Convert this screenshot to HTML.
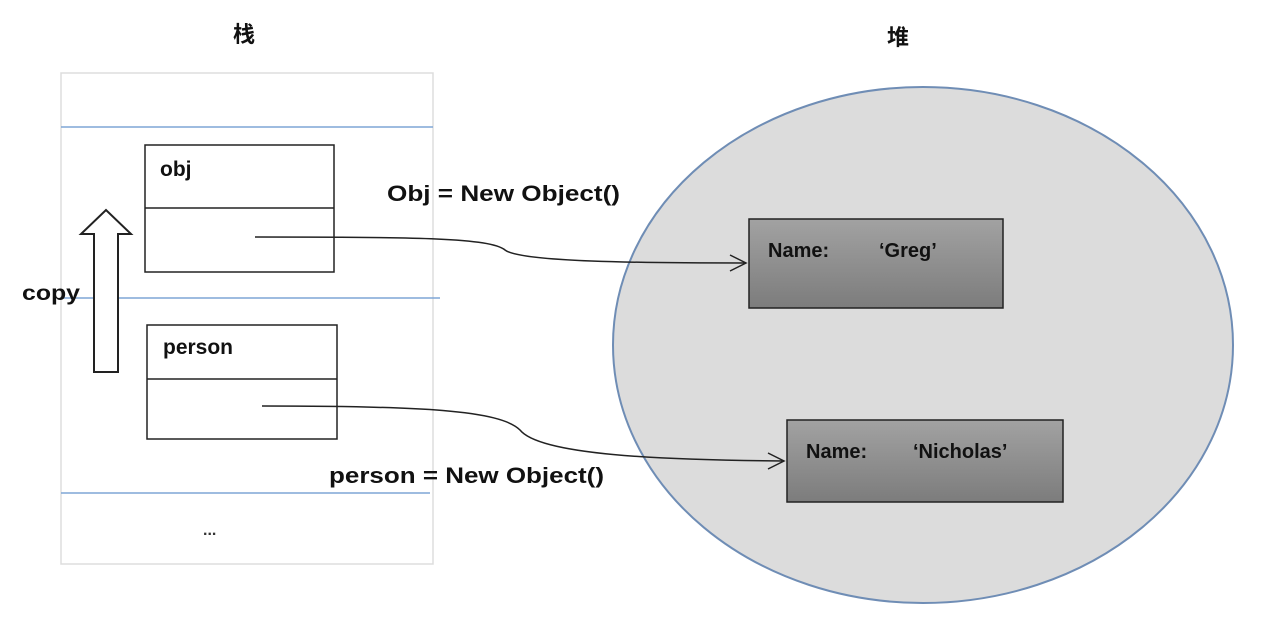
<!DOCTYPE html>
<html><head><meta charset="utf-8"><style>html,body{margin:0;padding:0;background:#fff}svg{display:block}</style></head>
<body>
<svg width="1268" height="644" viewBox="0 0 1268 644" xmlns="http://www.w3.org/2000/svg" font-family="Liberation Sans, Noto Sans CJK SC, sans-serif" font-weight="bold">
<defs>
<linearGradient id="g" x1="0" y1="0" x2="0" y2="1"><stop offset="0" stop-color="#a2a2a2"/><stop offset="1" stop-color="#7c7c7c"/></linearGradient>
</defs>
<rect width="1268" height="644" fill="#fff"/>
<text x="233" y="42" font-size="22" fill="#111">栈</text>
<text x="887" y="45" font-size="22" fill="#111">堆</text>
<rect x="61" y="73" width="372" height="491" fill="#fff" stroke="#dddddd" stroke-width="1.5"/>
<line x1="61" y1="127" x2="433" y2="127" stroke="#7fa6d6" stroke-width="1.5"/>
<line x1="61" y1="298" x2="440" y2="298" stroke="#7fa6d6" stroke-width="1.5"/>
<line x1="61" y1="493" x2="430" y2="493" stroke="#7fa6d6" stroke-width="1.5"/>
<rect x="145" y="145" width="189" height="127" fill="none" stroke="#222" stroke-width="1.5"/>
<line x1="145" y1="208" x2="334" y2="208" stroke="#222" stroke-width="1.5"/>
<text x="160" y="176" font-size="21" fill="#111">obj</text>
<rect x="147" y="325" width="190" height="114" fill="none" stroke="#222" stroke-width="1.5"/>
<line x1="147" y1="379" x2="337" y2="379" stroke="#222" stroke-width="1.5"/>
<text x="163" y="354" font-size="21" fill="#111">person</text>
<path d="M94 372 L94 234 L81 234 L106 210 L131 234 L118 234 L118 372 Z" fill="#fff" stroke="#222" stroke-width="2"/>
<text x="22" y="300" font-size="21" fill="#111" textLength="58" lengthAdjust="spacingAndGlyphs">copy</text>
<text x="203" y="535" font-size="16" fill="#333">...</text>
<ellipse cx="923" cy="345" rx="310" ry="258" fill="#dcdcdc" stroke="#6f8db5" stroke-width="2"/>
<rect x="749" y="219" width="254" height="89" fill="url(#g)" stroke="#222" stroke-width="1.5"/>
<text x="768" y="257" font-size="20" fill="#111">Name:</text>
<text x="879" y="257" font-size="20" fill="#111">‘Greg’</text>
<rect x="787" y="420" width="276" height="82" fill="url(#g)" stroke="#222" stroke-width="1.5"/>
<text x="806" y="458" font-size="20" fill="#111">Name:</text>
<text x="913" y="458" font-size="20" fill="#111">‘Nicholas’</text>
<path d="M255 237 C420 237 490 238 505 250 C520 262 640 263 746 263" fill="none" stroke="#222" stroke-width="1.5"/>
<path d="M730 255 L746 263 L730 271" fill="none" stroke="#222" stroke-width="1.5"/>
<path d="M262 406 C420 406 500 410 520 430 C540 455 660 460 784 461" fill="none" stroke="#222" stroke-width="1.5"/>
<path d="M768 453 L784 461 L768 469" fill="none" stroke="#222" stroke-width="1.5"/>
<text x="387" y="201" font-size="22" fill="#111" textLength="233" lengthAdjust="spacingAndGlyphs">Obj = New Object()</text>
<text x="329" y="483" font-size="22" fill="#111" textLength="275" lengthAdjust="spacingAndGlyphs">person = New Object()</text>
</svg>
</body></html>
